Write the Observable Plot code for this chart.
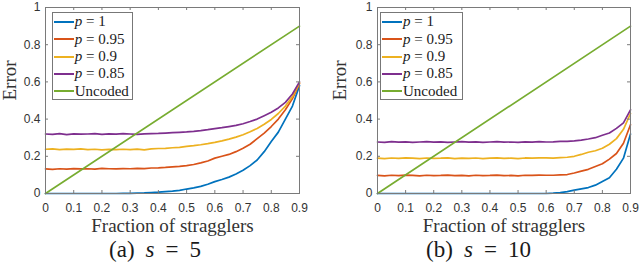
<!DOCTYPE html>
<html><head><meta charset="utf-8">
<script src="https://cdn.jsdelivr.net/npm/d3@7"></script>
<script src="https://cdn.jsdelivr.net/npm/@observablehq/plot@0.6"></script>
<style>
body{margin:0;background:#fff;}
#wrap{display:flex;width:640px;height:275px;overflow:hidden;}
.panel{position:relative;width:320px;height:275px;}
.legend{position:absolute;top:12.3px;height:88px;box-sizing:border-box;border:1px solid #777;background:#fff;font-family:"Liberation Serif","Times New Roman",serif;font-size:15px;color:#1a1a1a;padding-left:1px;}
.row{display:flex;align-items:center;height:17.3px;white-space:pre;}
.sw{width:20px;height:0;border-top:2px solid;margin-right:1px;}
.cap{position:absolute;top:240px;text-align:center;font-family:"Liberation Serif","Times New Roman",serif;font-size:23px;line-height:20px;color:#1a1a1a;white-space:pre;}
.cap span.g{display:inline-block;width:11px;}
</style></head>
<body>
<div id="wrap"></div>
<script>
// ---- data ----
const names = ["p = 1", "p = 0.95", "p = 0.9", "p = 0.85", "Uncoded"];
const colors = ["#0072BD", "#D95319", "#EDB120", "#7E2F8E", "#77AC30"];
const xTicks = [0, 0.1, 0.2, 0.3, 0.4, 0.5, 0.6, 0.7, 0.8, 0.9];
const yTicks = [0, 0.2, 0.4, 0.6, 0.8, 1];
const xs = [0,0.025,0.05,0.075,0.1,0.125,0.15,0.175,0.2,0.225,0.25,0.275,0.3,0.325,0.35,0.375,0.4,0.425,0.45,0.475,0.5,0.525,0.55,0.575,0.6,0.625,0.65,0.675,0.7,0.725,0.75,0.775,0.8,0.825,0.85,0.875,0.9];
const xsUncoded = [0, 0.9];
const uncoded = [0, 0.9];

// (a) s = 5
const a_p100 = [0,0,0,0,0,0,0,0,0,0,0,0.001,0.001,0.002,0.003,0.005,0.007,0.01,0.013,0.017,0.024,0.03,0.038,0.05,0.064,0.075,0.088,0.105,0.125,0.15,0.18,0.225,0.28,0.33,0.40,0.47,0.58];
const a_p095 = [0.132,0.13,0.133,0.131,0.134,0.132,0.133,0.131,0.135,0.133,0.132,0.134,0.133,0.135,0.134,0.137,0.138,0.14,0.143,0.146,0.15,0.156,0.165,0.175,0.19,0.2,0.21,0.225,0.243,0.265,0.295,0.325,0.36,0.4,0.45,0.51,0.59];
const a_p090 = [0.238,0.24,0.236,0.239,0.237,0.24,0.236,0.238,0.235,0.237,0.236,0.238,0.236,0.239,0.235,0.24,0.242,0.243,0.246,0.248,0.253,0.257,0.262,0.268,0.275,0.283,0.292,0.303,0.316,0.332,0.35,0.372,0.398,0.43,0.47,0.52,0.595];
const a_p085 = [0.32,0.318,0.322,0.317,0.321,0.319,0.32,0.322,0.318,0.321,0.319,0.322,0.32,0.318,0.321,0.322,0.323,0.325,0.327,0.329,0.331,0.334,0.338,0.343,0.349,0.354,0.36,0.366,0.375,0.387,0.4,0.418,0.437,0.46,0.49,0.535,0.6];

// (b) s = 10
const b_p100 = [0,0,0,0,0,0,0,0,0,0,0,0,0,0,0,0,0,0,0,0,0,0,0,0,0,0.002,0.005,0.01,0.018,0.025,0.032,0.045,0.065,0.085,0.13,0.19,0.32];
const b_p095 = [0.097,0.095,0.098,0.096,0.099,0.097,0.095,0.098,0.096,0.097,0.099,0.096,0.097,0.095,0.098,0.096,0.097,0.099,0.096,0.097,0.095,0.098,0.097,0.099,0.098,0.098,0.1,0.102,0.11,0.12,0.13,0.145,0.16,0.185,0.215,0.27,0.37];
const b_p090 = [0.19,0.188,0.191,0.189,0.192,0.19,0.188,0.191,0.189,0.19,0.192,0.188,0.19,0.189,0.191,0.188,0.19,0.192,0.189,0.19,0.188,0.191,0.19,0.192,0.191,0.19,0.193,0.195,0.2,0.21,0.222,0.23,0.243,0.265,0.295,0.345,0.43];
const b_p085 = [0.277,0.275,0.279,0.276,0.278,0.275,0.277,0.279,0.276,0.278,0.275,0.277,0.279,0.276,0.278,0.275,0.277,0.279,0.276,0.277,0.275,0.278,0.276,0.279,0.277,0.278,0.28,0.28,0.283,0.287,0.293,0.3,0.313,0.325,0.35,0.38,0.45];

const xLabel = "Fraction of stragglers";
const yLabel = "Error";

const panels = [
  {series: [a_p100, a_p095, a_p090, a_p085], tag: "(a)", sval: "5", ml: 45, mr: 21, legLeft: 51.7, legWidth: 81, capWidth: 310, ydx: -30},
  {series: [b_p100, b_p095, b_p090, b_p085], tag: "(b)", sval: "10", ml: 57, mr: 10, legLeft: 60, legWidth: 83, capWidth: 317, ydx: -31.7}
];

const wrap = document.getElementById("wrap");
const H = 240, MT = 7, MB = 47;
const serif = "'Liberation Serif', 'Times New Roman', serif";

panels.forEach(cfg => {
  const rows = [];
  cfg.series.forEach((vals, i) => vals.forEach((v, j) => rows.push({x: xs[j], y: v, name: names[i]})));
  xsUncoded.forEach((x, j) => rows.push({x, y: uncoded[j], name: names[4]}));
  const plotW = 320 - cfg.ml - cfg.mr, plotH = H - MT - MB;
  const fr = "#7a7a7a";
  const chart = Plot.plot({
    width: 320, height: H,
    marginLeft: cfg.ml, marginRight: cfg.mr, marginTop: MT, marginBottom: MB,
    style: {fontFamily: "'Liberation Sans', Arial, sans-serif", fontSize: "12px", color: "#333", background: "#fff", overflow: "visible"},
    x: {domain: [0, 0.9]},
    y: {domain: [0, 1]},
    color: {domain: names, range: colors},
    marks: [
      Plot.axisX(xTicks, {tickSize: 0, tickPadding: 10, label: null, tickFormat: d => String(d), fontSize: 12}),
      Plot.axisY(yTicks, {tickSize: 0, tickPadding: 5, label: null, tickFormat: d => String(d), fontSize: 12}),
      Plot.line(rows, {x: "x", y: "y", z: "name", stroke: "name", strokeWidth: 1.7}),
      Plot.frame({stroke: fr, strokeWidth: 1}),
      Plot.tickX(xTicks, {x: d => d, insetTop: plotH - 3, stroke: fr}),
      Plot.tickX(xTicks, {x: d => d, insetBottom: plotH - 3, stroke: fr}),
      Plot.tickY(yTicks, {y: d => d, insetRight: plotW - 3, stroke: fr}),
      Plot.tickY(yTicks, {y: d => d, insetLeft: plotW - 3, stroke: fr}),
      Plot.text([xLabel], {text: d => d, frameAnchor: "bottom", dy: 38, lineAnchor: "bottom", fontSize: 19, fontFamily: serif, fill: "#333"}),
      Plot.text([yLabel], {text: d => d, frameAnchor: "left", dx: cfg.ydx, rotate: -90, lineAnchor: "bottom", fontSize: 19, fontFamily: serif, fill: "#333"})
    ]
  });
  const div = document.createElement("div");
  div.className = "panel";
  div.appendChild(chart);

  const leg = document.createElement("div");
  leg.className = "legend";
  leg.style.left = cfg.legLeft + "px";
  leg.style.width = cfg.legWidth + "px";
  names.forEach((n, i) => {
    const r = document.createElement("div");
    r.className = "row";
    const sw = document.createElement("span");
    sw.className = "sw";
    sw.style.borderTopColor = colors[i];
    r.appendChild(sw);
    const t = document.createElement("span");
    if (n.startsWith("p ")) {
      t.innerHTML = "<i>p</i>" + n.slice(1);
    } else t.textContent = n;
    r.appendChild(t);
    leg.appendChild(r);
  });
  div.appendChild(leg);

  const cap = document.createElement("div");
  cap.className = "cap";
  cap.style.left = "0px";
  cap.style.width = cfg.capWidth + "px";
  cap.innerHTML = cfg.tag + '<span class="g"></span><i>s</i><span class="g"></span>=<span class="g"></span>' + cfg.sval;
  div.appendChild(cap);
  wrap.appendChild(div);
});
</script>
</body></html>
